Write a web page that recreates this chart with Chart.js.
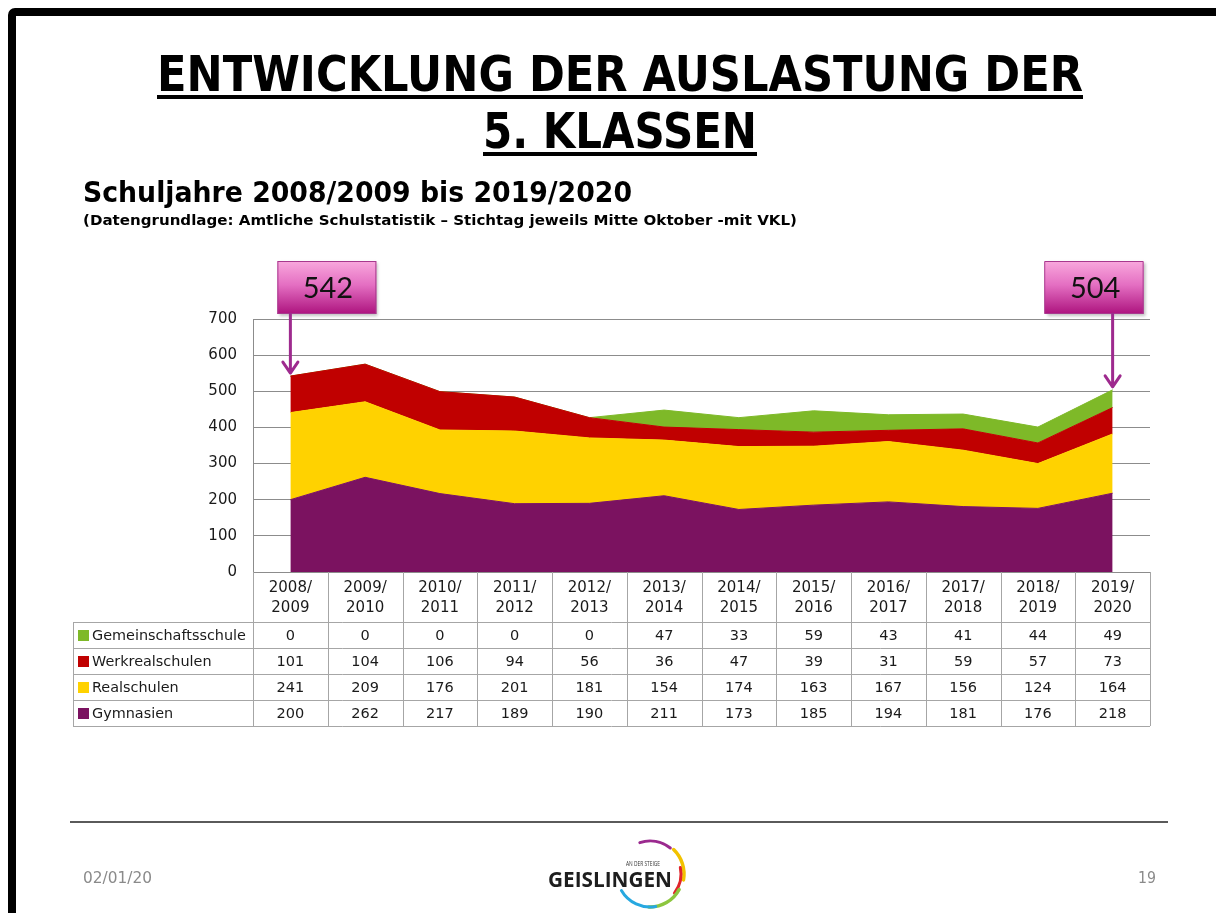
<!DOCTYPE html>
<html><head><meta charset="utf-8">
<script src="https://cdn.jsdelivr.net/npm/chart.js@4.4.1/dist/chart.umd.min.js"></script>
<style>
html,body{margin:0;padding:0;background:#fff;}
body{width:1216px;height:913px;overflow:hidden;position:relative;font-family:"DejaVu Sans",Verdana,sans-serif;}
#frame{position:absolute;left:8px;top:8px;width:1400px;height:1200px;border:8px solid #000;border-radius:7px;box-sizing:border-box;}
#c{position:absolute;left:0;top:0;}
.t{position:absolute;white-space:nowrap;line-height:1;transform-origin:0 0;margin:0;}
.ul{position:absolute;background:#000;}
#footline{position:absolute;left:70px;top:821px;width:1098px;height:2px;background:#5a5a5a;}
#logo{position:absolute;left:540px;top:832px;}
</style></head><body>
<div id="frame"></div>
<canvas id="c" width="1216" height="913"></canvas>

<div class="t" data-x="157" data-base="91" data-size="50" data-w="926" data-asc="0.846" style="font-weight:bold;color:#000;">ENTWICKLUNG DER AUSLASTUNG DER</div>
<div class="ul" style="left:157px;top:95px;width:926px;height:4px;"></div>
<div class="t" data-x="483" data-base="148" data-size="50" data-w="274" data-asc="0.846" style="font-weight:bold;color:#000;">5. KLASSEN</div>
<div class="ul" style="left:483px;top:152px;width:274px;height:4px;"></div>

<div class="t" data-x="83" data-base="203" data-size="29" data-w="549" data-asc="0.846" style="font-weight:bold;color:#000;">Schuljahre 2008/2009 bis 2019/2020</div>
<div class="t" data-x="83" data-base="225" data-size="14.5" data-w="714" data-asc="0.846" style="font-weight:bold;color:#000;">(Datengrundlage: Amtliche Schulstatistik – Stichtag jeweils Mitte Oktober -mit VKL)</div>

<div id="footline"></div>
<div class="t" data-x="83" data-base="884" data-size="15" data-w="69" data-asc="0.846" style="color:#8a8a8a;">02/01/20</div>
<div class="t" data-x="1138" data-base="884" data-size="15" data-w="18" data-asc="0.846" style="color:#8a8a8a;">19</div>

<svg id="logo" width="170" height="80" viewBox="540 832 170 80" xmlns="http://www.w3.org/2000/svg">
  <g fill="none" stroke-linecap="round">
    <path id="a1" stroke="#9b2a8f" stroke-width="3"/>
    <path id="a2" stroke="#f2c200" stroke-width="3.5"/>
    <path id="a3" stroke="#e0242b" stroke-width="3"/>
    <path id="a4" stroke="#8dc63f" stroke-width="3.5"/>
    <path id="a5" stroke="#27a8e0" stroke-width="3"/>
  </g>
  <text x="626" y="866" font-family="Open Sans, DejaVu Sans" font-size="7" fill="#333" textLength="34" lengthAdjust="spacingAndGlyphs">AN DER STEIGE</text>
  <text x="548" y="887" font-family="Open Sans, DejaVu Sans" font-weight="bold" font-size="21" fill="#1e1e1e" textLength="124" lengthAdjust="spacingAndGlyphs">GEISLINGEN</text>
</svg>

<script>
// ---------- data ----------
const years = ['2008/2009','2009/2010','2010/2011','2011/2012','2012/2013','2013/2014','2014/2015','2015/2016','2016/2017','2017/2018','2018/2019','2019/2020'];
const gemeinschaftsschule = [0, 0, 0, 0, 0, 47, 33, 59, 43, 41, 44, 49];
const werkrealschulen     = [101, 104, 106, 94, 56, 36, 47, 39, 31, 59, 57, 73];
const realschulen         = [241, 209, 176, 201, 181, 154, 174, 163, 167, 156, 124, 164];
const gymnasien           = [200, 262, 217, 189, 190, 211, 173, 185, 194, 181, 176, 218];
const yMin = 0, yMax = 700, yStep = 100;
const calloutIndices = [0, 11];

// series, bottom to top of the stack
const seriesNames  = ['Gymnasien', 'Realschulen', 'Werkrealschulen', 'Gemeinschaftsschule'];
const seriesData   = [gymnasien, realschulen, werkrealschulen, gemeinschaftsschule];
const seriesColors = ['#7b1260', '#ffd200', '#c00000', '#7eb928'];

// ---------- text fitting ----------
function fitTexts(){
  document.querySelectorAll('.t').forEach(el=>{
    const size = +el.dataset.size, base = +el.dataset.base, asc = +el.dataset.asc;
    el.style.fontSize = size + 'px';
    el.style.left = el.dataset.x + 'px';
    el.style.top = (base - asc*size) + 'px';
    el.style.transform = 'none';
    const w = el.getBoundingClientRect().width;
    el.style.transform = 'scaleX(' + (+el.dataset.w / w) + ')';
  });
}
fitTexts();
if (document.fonts && document.fonts.ready) document.fonts.ready.then(fitTexts);

// ---------- logo arcs ----------
(function(){
  const cx = 650, cy = 874;
  function arc(id, r, a0, a1){
    const p = a => [cx + r*Math.cos(a*Math.PI/180), cy + r*Math.sin(a*Math.PI/180)];
    const s = p(a0), e = p(a1);
    const large = (a1 - a0) > 180 ? 1 : 0;
    document.getElementById(id).setAttribute('d', `M${s[0]} ${s[1]} A${r} ${r} 0 ${large} 1 ${e[0]} ${e[1]}`);
  }
  arc('a1', 33, -108, -52);
  arc('a2', 34, -46, 10);
  arc('a3', 31, -12, 38);
  arc('a4', 33, 28, 92);
  arc('a5', 33, 80, 150);
})();

// ---------- plugins ----------
const FONT = '"DejaVu Sans", Verdana, sans-serif';

const tablePlugin = {
  id: 'dataTable',
  afterDraw(chart){
    const ctx = chart.ctx, xs = chart.scales.x;
    const n = years.length;
    const left = xs.left, right = xs.right, colW = (right - left) / n;
    const top = xs.top, headBottom = xs.bottom;
    const rowH = 26, legendLeft = left - 180;
    const rows = seriesNames.map((name, i) => ({name, data: seriesData[i], color: seriesColors[i]})).reverse();
    const tableBottom = headBottom + rows.length * rowH;
    ctx.save();
    ctx.strokeStyle = '#a6a6a6';
    ctx.lineWidth = 1;
    ctx.beginPath();
    for (let r = 0; r <= rows.length; r++){
      const y = Math.round(headBottom + r*rowH) + 0.5;
      ctx.moveTo(legendLeft, y); ctx.lineTo(right, y);
    }
    ctx.moveTo(Math.round(legendLeft)+0.5, headBottom); ctx.lineTo(Math.round(legendLeft)+0.5, tableBottom);
    for (let i = 0; i <= n; i++){
      const x = Math.round(left + i*colW) + 0.5;
      ctx.moveTo(x, top); ctx.lineTo(x, tableBottom);
    }
    ctx.stroke();

    // label font sized so the longest name fits the legend column like the reference
    ctx.font = '14px ' + FONT;
    const longest = Math.max(...seriesNames.map(s => ctx.measureText(s).width));
    const labelSize = Math.min(15, 14 * 154 / longest);

    ctx.textBaseline = 'middle';
    rows.forEach((row, r) => {
      const yc = headBottom + r*rowH + rowH/2 + 1;
      ctx.fillStyle = row.color;
      ctx.fillRect(legendLeft + 5, Math.round(yc - 6), 11, 11);
      ctx.fillStyle = '#1a1a1a';
      ctx.textAlign = 'left';
      ctx.font = labelSize.toFixed(2) + 'px ' + FONT;
      ctx.fillText(row.name, legendLeft + 19, yc);
      ctx.textAlign = 'center';
      ctx.font = '14.5px ' + FONT;
      row.data.forEach((v, i) => {
        ctx.fillText(String(v), left + (i + 0.5)*colW, yc);
      });
    });
    ctx.restore();
  }
};

const calloutPlugin = {
  id: 'callouts',
  afterDraw(chart){
    const ctx = chart.ctx, xs = chart.scales.x, ys = chart.scales.y, ca = chart.chartArea;
    ctx.save();
    calloutIndices.forEach((idx, k) => {
      const total = seriesData.reduce((s, d) => s + d[idx], 0);
      const px = xs.getPixelForValue(idx), py = ys.getPixelForValue(total);
      const w = 99, h = 53;
      const bx = k === 0 ? px - 13 : px - 68;
      const by = ca.top - 58;
      ctx.shadowColor = 'rgba(0,0,0,0.25)'; ctx.shadowOffsetX = 2; ctx.shadowOffsetY = 2; ctx.shadowBlur = 3;
      const g = ctx.createLinearGradient(0, by, 0, by + h);
      g.addColorStop(0, '#f9a8dd'); g.addColorStop(0.45, '#e46fc2'); g.addColorStop(1, '#ad137e');
      ctx.fillStyle = g;
      ctx.fillRect(bx, by, w, h);
      ctx.shadowColor = 'transparent';
      ctx.strokeStyle = '#a8388e'; ctx.lineWidth = 1;
      ctx.strokeRect(bx + 0.5, by + 0.5, w - 1, h - 1);
      ctx.fillStyle = '#111';
      ctx.font = '29px Lato, "Open Sans", sans-serif';
      ctx.textAlign = 'center'; ctx.textBaseline = 'middle';
      ctx.fillText(String(total), bx + w/2 + 1, by + h/2 + 1);
      const tipY = py - 3;
      ctx.strokeStyle = '#9e2a8e'; ctx.lineWidth = 3; ctx.lineCap = 'round'; ctx.lineJoin = 'round';
      ctx.beginPath();
      ctx.moveTo(px, by + h); ctx.lineTo(px, tipY);
      ctx.moveTo(px - 7.5, tipY - 11); ctx.lineTo(px, tipY); ctx.lineTo(px + 7.5, tipY - 11);
      ctx.stroke();
    });
    ctx.restore();
  }
};

// ---------- chart ----------
new Chart(document.getElementById('c'), {
  type: 'line',
  data: {
    labels: years,
    datasets: seriesNames.map((name, i) => ({
      label: name,
      data: seriesData[i],
      backgroundColor: seriesColors[i],
      borderColor: seriesColors[i],
      borderWidth: 1,
      pointRadius: 0,
      tension: 0,
      fill: i === 0 ? 'origin' : '-1'
    }))
  },
  options: {
    responsive: false,
    animation: false,
    devicePixelRatio: 1,
    layout: { padding: { left: 0, top: 319, right: 66, bottom: 291 } },
    plugins: { legend: { display: false }, tooltip: { enabled: false } },
    scales: {
      x: {
        offset: true,
        grid: { display: false, drawTicks: false },
        border: { display: false },
        ticks: {
          autoSkip: false, maxRotation: 0, minRotation: 0, padding: 6,
          color: '#1a1a1a',
          font: { family: FONT, size: 15, lineHeight: 1.33 },
          callback: (v, i) => { const s = years[i]; const j = s.indexOf('/'); return [s.slice(0, j + 1), s.slice(j + 1)]; }
        },
        afterFit: s => { s.height = 50; }
      },
      y: {
        stacked: true, min: yMin, max: yMax,
        ticks: { stepSize: yStep, padding: 16, color: '#1a1a1a', font: { family: FONT, size: 15 } },
        grid: { color: '#8c8c8c', drawTicks: false, lineWidth: 1 },
        border: { display: true, color: '#8c8c8c' },
        afterFit: s => { s.width = 253; }
      }
    }
  },
  plugins: [tablePlugin, calloutPlugin]
});
</script>
</body></html>
